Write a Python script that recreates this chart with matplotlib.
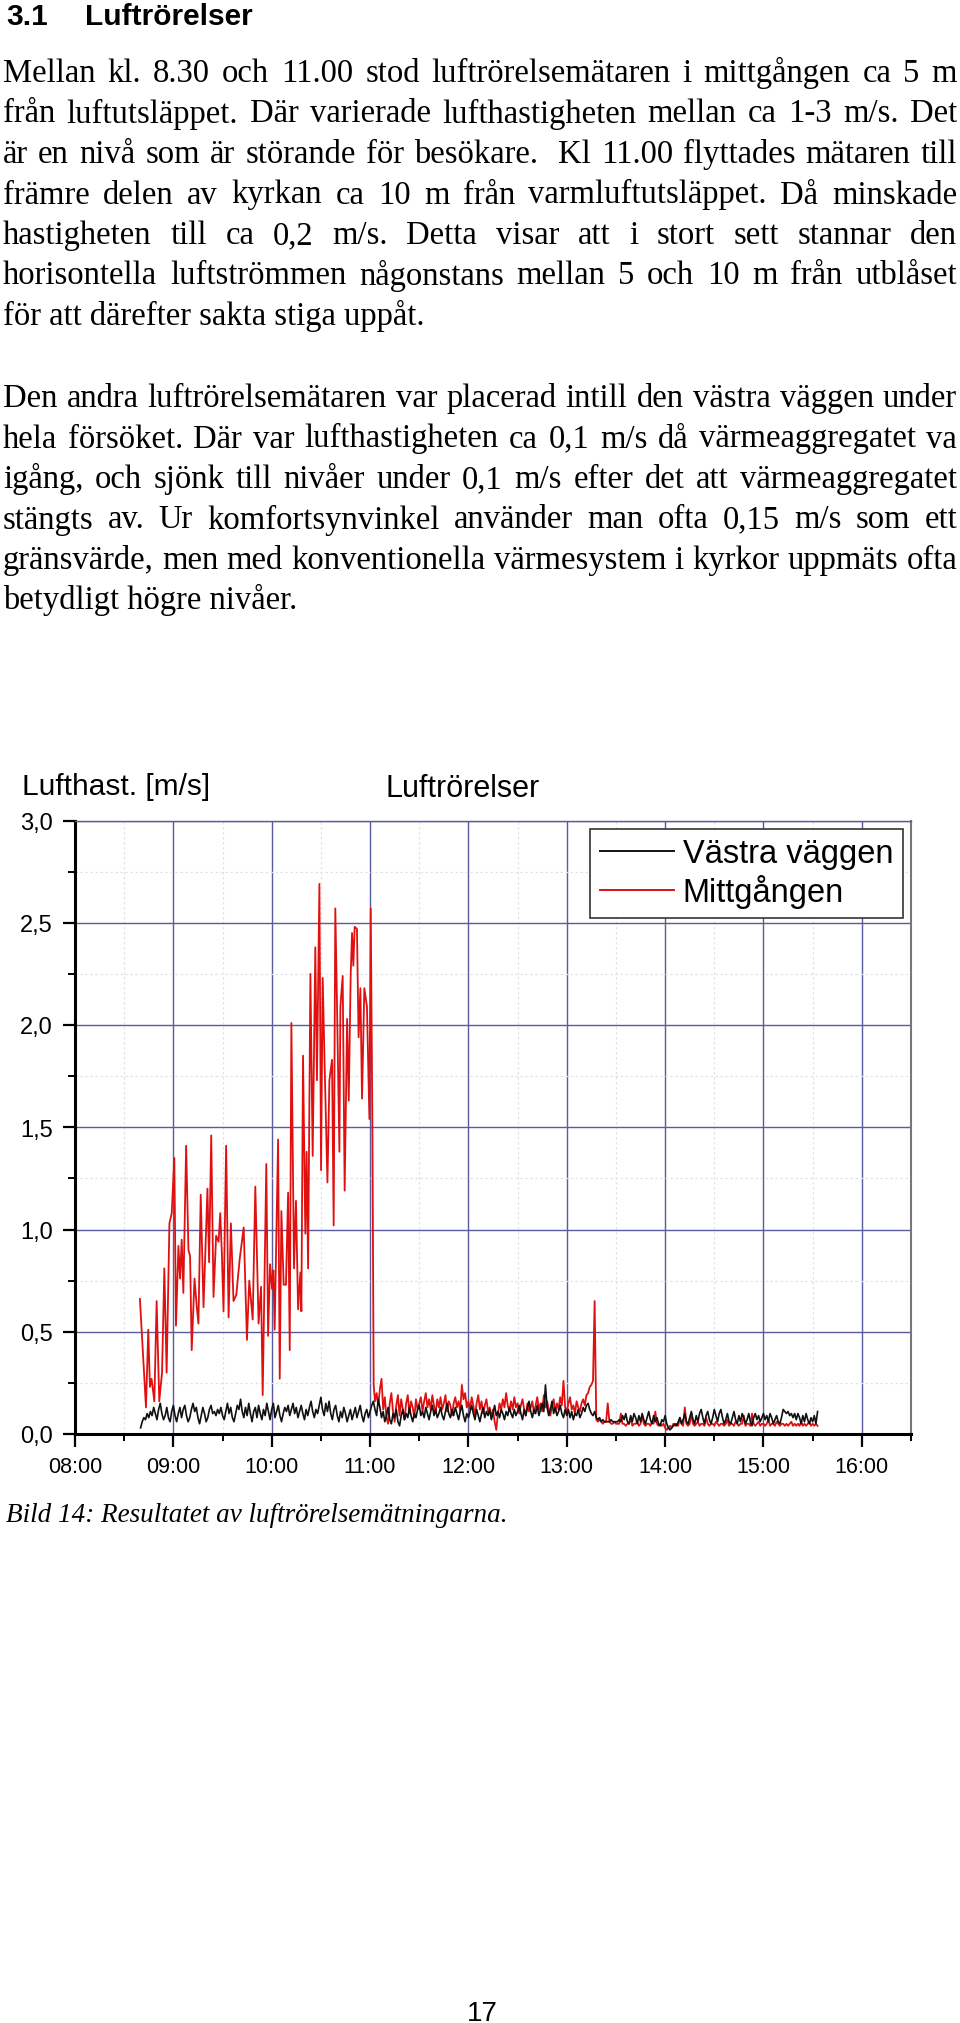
import numpy as np
import matplotlib
matplotlib.use("Agg")
import matplotlib.pyplot as plt
from matplotlib.lines import Line2D
from matplotlib.ticker import FixedLocator, FixedFormatter, MultipleLocator

W, H = 960, 2024

heading_nr = "3.1"
heading = "Luftrörelser"
para1 = [
    "Mellan kl. 8.30 och 11.00 stod luftrörelsemätaren i mittgången ca 5 m",
    "från luftutsläppet. Där varierade lufthastigheten mellan ca 1-3 m/s. Det",
    "är en nivå som är störande för besökare.  Kl 11.00 flyttades mätaren till",
    "främre delen av kyrkan ca 10 m från varmluftutsläppet. Då minskade",
    "hastigheten till ca 0,2 m/s. Detta visar att i stort sett stannar den",
    "horisontella luftströmmen någonstans mellan 5 och 10 m från utblåset",
    "för att därefter sakta stiga uppåt.",
]
para2 = [
    "Den andra luftrörelsemätaren var placerad intill den västra väggen under",
    "hela försöket. Där var lufthastigheten ca 0,1 m/s då värmeaggregatet va",
    "igång, och sjönk till nivåer under 0,1 m/s efter det att värmeaggregatet",
    "stängts av. Ur komfortsynvinkel använder man ofta 0,15 m/s som ett",
    "gränsvärde, men med konventionella värmesystem i kyrkor uppmäts ofta",
    "betydligt högre nivåer.",
]
caption = "Bild 14: Resultatet av luftrörelsemätningarna."
page_no = "17"

chart_title = "Luftrörelser"
y_title = "Lufthast. [m/s]"
series_names = ["Västra väggen", "Mittgången"]
hour_ticks = [8, 9, 10, 11, 12, 13, 14, 15, 16]
hour_labels = ["08:00", "09:00", "10:00", "11:00", "12:00", "13:00", "14:00", "15:00", "16:00"]
y_ticks = [0.0, 0.5, 1.0, 1.5, 2.0, 2.5, 3.0]
y_labels = ["0,0", "0,5", "1,0", "1,5", "2,0", "2,5", "3,0"]

# Mittgången 08:39 - 11:02, minutes after 08:00 and m/s
red_high_min = [39.6, 43.3, 44.7, 45.7, 46.7, 48.4, 49.8, 51.4, 53.1, 54.5,
                55.9, 57.6, 59.0, 60.6, 61.6, 63.1, 64.1, 65.1, 66.1, 67.8,
                69.2, 70.2, 71.2, 72.9, 74.3, 75.3, 76.7, 78.4, 80.8, 81.8,
                83.1, 84.5, 86.1, 87.6, 88.6, 89.6, 90.6, 92.2, 93.7, 95.1,
                96.7, 98.4, 100.4, 102.9, 104.9, 106.3, 108.4, 110.0, 112.0, 113.5,
                114.5, 116.7, 117.8, 119.0, 120.2, 121.0, 121.8, 123.9, 124.9, 125.9,
                127.3, 128.7, 130.0, 131.0, 132.0, 133.6, 134.8, 136.1, 137.5, 138.1,
                139.1, 140.5, 141.3, 142.2, 143.6, 145.0, 146.6, 147.6, 149.1, 150.1,
                151.1, 152.3, 154.0, 155.2, 156.8, 157.8, 158.8, 159.8, 161.3, 161.9,
                163.3, 164.5, 166.0, 167.0, 168.2, 169.0, 169.8, 170.6, 172.0, 173.0,
                174.1, 175.1, 176.5, 178.1, 179.6, 180.4, 181.4, 182.2]
red_high_val = [0.66, 0.13, 0.51, 0.23, 0.27, 0.16, 0.65, 0.16, 0.30, 0.81,
                0.30, 1.03, 1.08, 1.35, 0.53, 0.92, 0.76, 0.95, 0.69, 1.41,
                0.90, 0.87, 0.41, 0.76, 0.62, 0.54, 1.17, 0.62, 1.20, 0.84,
                1.46, 0.67, 0.97, 0.94, 1.08, 0.88, 0.60, 1.41, 0.57, 1.03,
                0.65, 0.68, 0.85, 1.01, 0.46, 0.75, 0.56, 1.21, 0.54, 0.72,
                0.19, 1.32, 0.48, 0.83, 0.71, 0.80, 0.51, 1.44, 0.27, 1.09,
                0.73, 0.73, 1.18, 0.41, 2.01, 0.81, 1.14, 0.61, 0.79, 0.60,
                1.85, 0.98, 1.38, 0.81, 2.25, 1.36, 2.38, 1.73, 2.69, 1.29,
                2.23, 1.80, 1.23, 1.73, 1.83, 1.02, 2.57, 2.12, 1.38, 2.09,
                2.24, 1.19, 2.03, 1.63, 2.25, 2.45, 2.29, 2.48, 2.47, 1.94,
                2.18, 1.64, 2.18, 2.09, 1.54, 2.57, 1.54, 0.24]

# Mittgången 11:03 - 15:33, one reading per minute
red_low_start = 183
red_low_val = [
    0.16, 0.20, 0.14, 0.22, 0.27, 0.12, 0.18, 0.08, 0.05, 0.15, 0.20, 0.11, 0.06, 0.14,
    0.19, 0.09, 0.17, 0.12, 0.07, 0.15, 0.19, 0.10, 0.16, 0.13, 0.08, 0.17, 0.12,
    0.15, 0.18, 0.11, 0.16, 0.20, 0.13, 0.17, 0.12, 0.19, 0.14, 0.10, 0.17, 0.13, 0.18,
    0.12, 0.15, 0.19, 0.11, 0.16, 0.14, 0.09, 0.15, 0.18, 0.13, 0.16, 0.11, 0.24, 0.17,
    0.20, 0.13,
    0.16, 0.12, 0.18, 0.14, 0.09, 0.15, 0.19, 0.12, 0.16, 0.10, 0.14, 0.17, 0.11, 0.13,
    0.08, 0.12, 0.06, 0.02, 0.10, 0.15, 0.12, 0.17, 0.13, 0.20, 0.14, 0.11, 0.16, 0.12,
    0.18, 0.13, 0.15, 0.10, 0.14, 0.17, 0.12, 0.09, 0.15, 0.11, 0.13, 0.16, 0.10, 0.14,
    0.18, 0.12, 0.15, 0.11, 0.19, 0.13, 0.16, 0.12, 0.09, 0.14, 0.17, 0.11, 0.15, 0.12,
    0.18, 0.14, 0.26, 0.13,
    0.11, 0.15, 0.18, 0.12, 0.14, 0.10, 0.16, 0.13, 0.11, 0.15, 0.17, 0.14, 0.19, 0.20,
    0.23, 0.24, 0.26, 0.65, 0.07, 0.06, 0.07, 0.06, 0.05, 0.06, 0.06, 0.15, 0.06, 0.05,
    0.05, 0.06, 0.05, 0.05, 0.05,
    0.10, 0.05, 0.05, 0.04, 0.05, 0.05, 0.08, 0.04, 0.05, 0.05, 0.06, 0.04, 0.05, 0.09,
    0.05, 0.04, 0.05, 0.05, 0.04, 0.06, 0.05, 0.11, 0.05, 0.04, 0.05, 0.04, 0.05,
    0.03, 0.02, 0.03, 0.04, 0.03, 0.05, 0.04, 0.05, 0.04, 0.08, 0.05, 0.04, 0.13, 0.05,
    0.04, 0.05, 0.10, 0.05, 0.04, 0.05, 0.06, 0.04, 0.05, 0.05, 0.04, 0.08, 0.05, 0.04,
    0.05, 0.05, 0.04, 0.06, 0.05, 0.04, 0.05, 0.05, 0.04, 0.05, 0.07, 0.04, 0.05, 0.05,
    0.04, 0.06, 0.05, 0.04, 0.05, 0.05, 0.09, 0.04, 0.05, 0.05, 0.04, 0.10, 0.05, 0.04,
    0.05, 0.06, 0.04, 0.05,
    0.05, 0.04, 0.05, 0.07, 0.04, 0.05, 0.05, 0.04, 0.06, 0.05, 0.04, 0.05, 0.05, 0.04,
    0.05, 0.04, 0.05, 0.06, 0.04, 0.05, 0.04, 0.05, 0.04, 0.06, 0.04, 0.05, 0.04, 0.05,
    0.06, 0.04, 0.05, 0.04, 0.05, 0.04,
]

# Västra väggen 08:40 - 15:33, one reading per minute
black_start = 40
black_val = [
    0.03, 0.06, 0.08, 0.07, 0.10, 0.08, 0.11, 0.09, 0.13, 0.10, 0.07, 0.12, 0.15, 0.10,
    0.07, 0.09, 0.13, 0.08, 0.06, 0.11,
    0.14, 0.09, 0.06, 0.10, 0.13, 0.08, 0.12, 0.14, 0.09, 0.06, 0.08, 0.12, 0.15, 0.11,
    0.13, 0.08, 0.05, 0.09, 0.13, 0.10, 0.06, 0.08, 0.12, 0.14, 0.10, 0.11, 0.09, 0.12,
    0.10, 0.13, 0.09, 0.07, 0.11, 0.15, 0.10, 0.13, 0.08, 0.06, 0.10, 0.14, 0.12, 0.17,
    0.11, 0.08, 0.13, 0.09, 0.15, 0.10, 0.06, 0.11, 0.13, 0.08, 0.14, 0.10, 0.07, 0.12,
    0.09, 0.15, 0.11, 0.07,
    0.12, 0.15, 0.08, 0.11, 0.14, 0.09, 0.06, 0.10, 0.13, 0.11, 0.14, 0.09, 0.12, 0.15,
    0.10, 0.13, 0.08, 0.11, 0.14, 0.10, 0.07, 0.12, 0.09, 0.13, 0.16, 0.11, 0.08, 0.12,
    0.10, 0.14, 0.18, 0.12, 0.09, 0.15, 0.11, 0.16, 0.10, 0.07, 0.12, 0.14, 0.09, 0.06,
    0.11, 0.08, 0.13, 0.10, 0.06, 0.09, 0.12, 0.07, 0.10, 0.13, 0.08, 0.11, 0.14, 0.09,
    0.06, 0.10, 0.12, 0.08,
    0.11, 0.14, 0.16, 0.12, 0.09, 0.17, 0.13, 0.08, 0.11, 0.06, 0.09, 0.13, 0.07, 0.05,
    0.10, 0.08, 0.12, 0.06, 0.04, 0.09, 0.12, 0.07, 0.10, 0.08, 0.13, 0.09, 0.06, 0.10,
    0.08, 0.12, 0.14, 0.09, 0.11, 0.08, 0.13, 0.10, 0.07, 0.11, 0.14, 0.09, 0.12, 0.08,
    0.10, 0.13, 0.09, 0.07, 0.11, 0.15, 0.10, 0.08, 0.12, 0.09, 0.13, 0.10, 0.07, 0.11,
    0.14, 0.09, 0.06, 0.10,
    0.08, 0.11, 0.14, 0.10, 0.07, 0.12, 0.09, 0.06, 0.10, 0.13, 0.08, 0.11, 0.09, 0.12,
    0.07, 0.10, 0.14, 0.09, 0.11, 0.08, 0.12, 0.10, 0.07, 0.11, 0.09, 0.13, 0.10, 0.08,
    0.12, 0.09, 0.11, 0.14, 0.10, 0.07, 0.12, 0.09, 0.13, 0.16, 0.11, 0.08, 0.12, 0.10,
    0.14, 0.09, 0.12, 0.15, 0.11, 0.24, 0.13, 0.09, 0.12, 0.16, 0.10, 0.13, 0.09, 0.11,
    0.14, 0.10, 0.08, 0.12,
    0.09, 0.12, 0.08, 0.11, 0.07, 0.10, 0.09, 0.12, 0.08, 0.10, 0.13, 0.11, 0.14, 0.15,
    0.12, 0.10, 0.09, 0.11, 0.08, 0.07, 0.08, 0.06, 0.07, 0.06, 0.06, 0.06, 0.06, 0.07,
    0.06, 0.06, 0.06, 0.06, 0.07, 0.06, 0.09, 0.07, 0.10, 0.06, 0.05, 0.09, 0.06, 0.10,
    0.08, 0.05, 0.09, 0.06, 0.10, 0.07, 0.05, 0.08, 0.11, 0.07, 0.05, 0.09, 0.06, 0.08,
    0.05, 0.04, 0.07, 0.06,
    0.09, 0.05, 0.03, 0.02, 0.03, 0.04, 0.05, 0.04, 0.06, 0.08, 0.05, 0.07, 0.10, 0.06,
    0.05, 0.08, 0.11, 0.07, 0.05, 0.09, 0.06, 0.10, 0.12, 0.08, 0.05, 0.09, 0.11, 0.07,
    0.05, 0.08, 0.12, 0.09, 0.06, 0.10, 0.12, 0.08, 0.05, 0.07, 0.10, 0.06, 0.05, 0.08,
    0.11, 0.07, 0.05, 0.09, 0.06, 0.10, 0.08, 0.05, 0.07, 0.10, 0.06, 0.04, 0.08, 0.10,
    0.07, 0.09, 0.06, 0.08,
    0.10, 0.07, 0.09, 0.06, 0.10, 0.08, 0.05, 0.07, 0.09, 0.06, 0.05, 0.08, 0.12, 0.11,
    0.10, 0.11, 0.09, 0.10, 0.08, 0.10, 0.07, 0.10, 0.08, 0.05, 0.09, 0.06, 0.10, 0.07,
    0.05, 0.08, 0.06, 0.09, 0.05, 0.11,
]

SERIF = "Liberation Serif"
SANS = "Liberation Sans"
BODY = 23.5
X0, X1 = 3, 957

fig = plt.figure(figsize=(W / 100, H / 100), dpi=100)
renderer = fig.canvas.get_renderer()


def fy(y):
    return 1 - y / H


def body_line(text, y, justify):
    if not justify:
        fig.text(X0 / W, fy(y), text, fontsize=BODY, family=SERIF, va="baseline")
        return
    words = text.split(" ")
    objs, widths = [], []
    for w in words:
        if w:
            t = fig.text(0, fy(y), w, fontsize=BODY, family=SERIF, va="baseline")
            widths.append(t.get_window_extent(renderer).width)
        else:
            t = None
            widths.append(0)
        objs.append(t)
    gap = (X1 - X0 - sum(widths)) / (len(words) - 1)
    x = X0
    for t, wd in zip(objs, widths):
        if t is not None:
            t.set_x(x / W)
        x += wd + gap


# heading
fig.text(6 / W, fy(25), heading_nr, fontsize=21.5, family=SANS, weight="bold", va="baseline")
fig.text(85 / W, fy(25), heading, fontsize=21.5, family=SANS, weight="bold", va="baseline")

for i, line in enumerate(para1):
    body_line(line, 82 + 40.5 * i, i < len(para1) - 1)
for i, line in enumerate(para2):
    body_line(line, 407 + 40.5 * i, i < len(para2) - 1)

# chart
ax = fig.add_axes([75 / W, 1 - 1435 / H, (911 - 75) / W, (1435 - 821.5) / H])

red_t = 8 + np.array(red_high_min + [red_low_start + i for i in range(len(red_low_val))]) / 60
red_v = np.array(red_high_val + red_low_val)
black_t = 8 + (black_start + np.arange(len(black_val))) / 60

ax.plot(red_t, red_v, color="#e01010", lw=1.3, zorder=3)
ax.plot(black_t, black_val, color="#111111", lw=1.2, zorder=4)

ax.set_xlim(8, 16.5)
ax.set_ylim(0, 3)
ax.xaxis.set_major_locator(FixedLocator(hour_ticks))
ax.xaxis.set_major_formatter(FixedFormatter(hour_labels))
ax.xaxis.set_minor_locator(MultipleLocator(0.5))
ax.yaxis.set_major_locator(FixedLocator(y_ticks))
ax.yaxis.set_major_formatter(FixedFormatter(y_labels))
ax.yaxis.set_minor_locator(MultipleLocator(0.25))

ax.set_axisbelow(True)
ax.grid(which="major", color="#5a5a9e", lw=1.0)
ax.grid(which="minor", color="#dde4ea", lw=0.9, ls=(0, (2, 2)))

for side in ["left", "bottom"]:
    ax.spines[side].set_linewidth(2.2)
    ax.spines[side].set_color("black")
ax.spines["right"].set_color("#777777")
ax.spines["right"].set_linewidth(1.5)
ax.spines["top"].set_color("#5a5a9e")
ax.spines["top"].set_linewidth(1.0)

ax.tick_params(axis="both", which="major", direction="out", length=9, width=1.6, color="black")
ax.tick_params(axis="both", which="minor", direction="out", length=5, width=1.4, color="black")
ax.tick_params(axis="y", which="major", labelsize=17, pad=7)
ax.tick_params(axis="x", which="major", labelsize=15.5, pad=7)
for lab in ax.get_xticklabels() + ax.get_yticklabels():
    lab.set_family(SANS)

handles = [Line2D([], [], color="#111111", lw=1.4), Line2D([], [], color="#e01010", lw=1.4)]
leg = ax.legend(handles, series_names, loc="upper right",
                prop={"family": SANS, "size": 23.5},
                handlelength=2.27, handletextpad=0.27, borderpad=0.3,
                labelspacing=0.15, borderaxespad=0.25, fancybox=False, framealpha=1)
leg.get_frame().set_edgecolor("#333333")
leg.get_frame().set_linewidth(1.2)

fig.text(22 / W, fy(795), y_title, fontsize=21.5, family=SANS, va="baseline")
fig.text(385 / W, fy(797), chart_title, fontsize=22, family=SANS, va="baseline")

fig.text(6 / W, fy(1522), caption, fontsize=19.5, family=SERIF, style="italic", va="baseline")
fig.text(482 / W, fy(2021), page_no, fontsize=20, family=SANS, ha="center", va="baseline")

fig.savefig("out.png", dpi=100)
